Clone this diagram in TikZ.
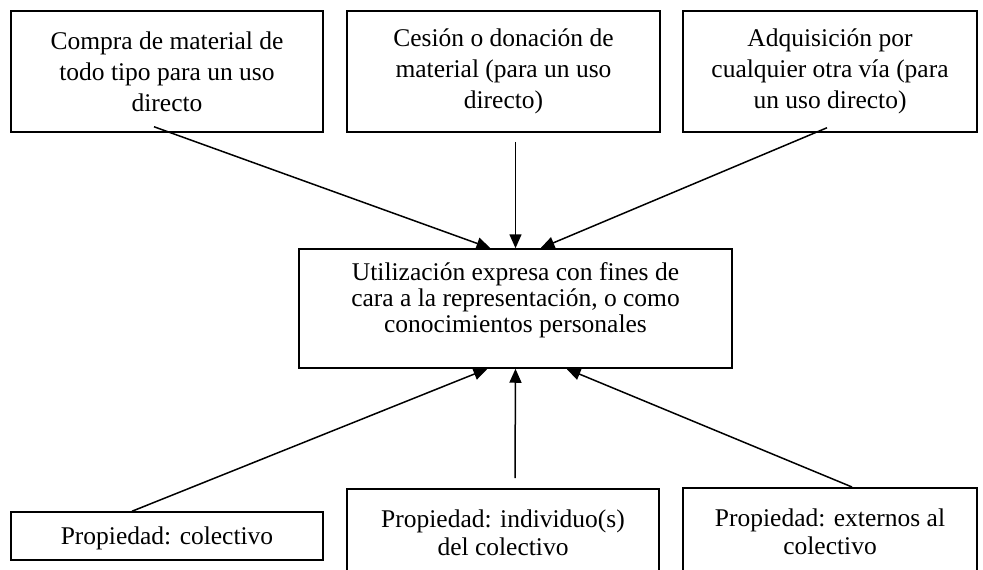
\documentclass[tikz,border=0pt]{standalone}
\usepackage{fontspec}
\setmainfont{Liberation Serif}
\usetikzlibrary{arrows.meta}

\tikzset{
    caja/.style={draw,line width=1.5pt,align=center,inner sep=0pt,font=\fontsize{25.5}{28.5}\selectfont},
    flecha/.style={->,line width=1.5pt},
}

\begin{document}
\begin{tikzpicture}[x=1pt,y=-1pt,>={Triangle[length=14pt,width=12pt]}]
        \useasboundingbox (0,0) rectangle (983,570);
        % fuentes del material
        \node[caja,minimum width=312pt,minimum height=121pt,font=\fontsize{25.5}{31}\selectfont] (compra) at (167,71.5) {Compra de material de\\todo tipo para un uso\\directo};
        \node[caja,minimum width=313pt,minimum height=121pt,font=\fontsize{25.5}{31}\selectfont] (cesion) at (503.5,71.5) {Cesión o donación de\\material (para un uso\\directo)\rule[-1pt]{0pt}{0pt}};
        \node[caja,minimum width=294pt,minimum height=121pt,font=\fontsize{25.5}{31}\selectfont] (adquisicion) at (830,71.5) {Adquisición por\\cualquier otra vía (para\\un uso directo)\rule[-1pt]{0pt}{0pt}};
        % uso
        \node[caja,minimum width=433pt,minimum height=119pt,font=\fontsize{25.5}{25.7}\selectfont] (uso) at (515.5,308.5) {Utilización expresa con fines de\\cara a la representación, o como\\conocimientos personales\rule[-21.7pt]{0pt}{0pt}};
        % propiedad
        \node[caja,minimum width=312pt,minimum height=48pt,text depth=0pt] (colectivo) at (167,536) {Propiedad: colectivo};
        \node[caja,minimum width=312pt,inner ysep=21pt,anchor=north] (individuo) at (503,488) {Propiedad: individuo(s)\\del colectivo};
        \node[caja,minimum width=294pt,inner ysep=21pt,anchor=north] (externos) at (830,487) {Propiedad: externos al\\colectivo};
        \draw[flecha] ([xshift=-13pt,yshift=6pt]compra.south) -- ([xshift=-25pt]uso.north);
        \draw[flecha] ([xshift=12pt,yshift=-9pt]cesion.south) -- (uso.north);
        \draw[flecha] ([xshift=-3pt,yshift=5pt]adquisicion.south) -- ([xshift=25pt]uso.north);
        \draw[flecha] ([xshift=-35pt]colectivo.north) -- ([xshift=-28pt]uso.south);
        \draw[flecha] ([xshift=12pt,yshift=10pt]individuo.north) -- (uso.south);
        \draw[flecha] ([xshift=22pt]externos.north) -- ([xshift=51pt]uso.south);
    \end{tikzpicture}
\end{document}
